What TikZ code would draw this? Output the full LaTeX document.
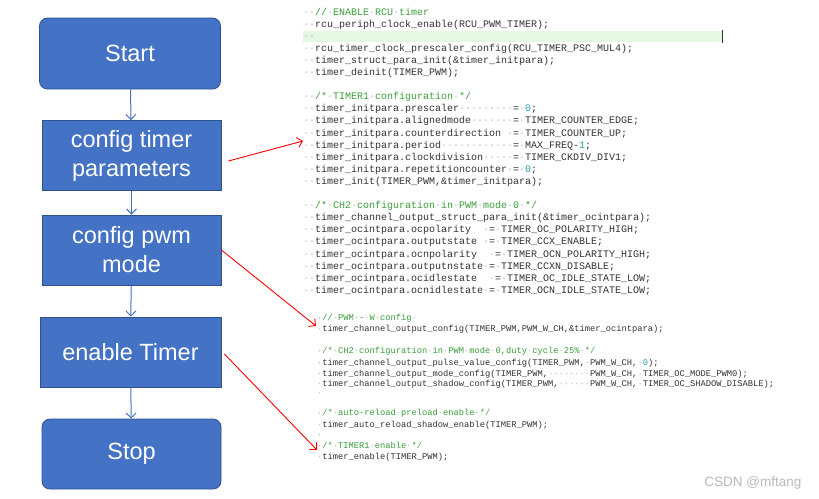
\documentclass[tikz,border=0pt]{standalone}
\usepackage{fontspec}
\setmainfont{Liberation Sans}
\newfontfamily\codefont{Liberation Mono}
\usepackage{newunicodechar}
\usetikzlibrary{arrows.meta}

\definecolor{boxblue}{HTML}{4472C4}
\definecolor{boxedge}{HTML}{2F528F}
\definecolor{cmtgreen}{HTML}{3C9E3C}
\definecolor{numcyan}{HTML}{2A9DB0}
\definecolor{codetext}{HTML}{333333}
\definecolor{dotgray}{HTML}{B8B8B8}
\definecolor{hlgreen}{HTML}{E4F8E4}

% visible blanks of the editor
\newunicodechar{·}{\textcolor{dotgray}{\symbol{"00B7}}}
\newcommand{\cmnt}[1]{\textcolor{cmtgreen}{#1}}
\newcommand{\numb}[1]{\textcolor{numcyan}{#1}}

\tikzset{
  flowbox/.style={draw=boxedge, line width=0.8pt, fill=boxblue, text=white,
    font=\fontsize{23.5}{29}\selectfont, align=center,
    minimum width=179pt, minimum height=70pt, inner sep=0pt},
  endbox/.style={flowbox, rounded corners=8pt},
  flow/.style={draw=boxblue, line width=1pt, -{Straight Barb[length=5pt,width=10pt]}},
  redarrow/.style={draw=red, line width=0.9pt, -{Straight Barb[length=5pt,width=10pt]}},
  code/.style={anchor=base west, inner sep=0pt, text=codetext,
    font=\codefont\fontsize{10}{12}\selectfont},
  smallcode/.style={code, font=\codefont\fontsize{8.75}{11}\selectfont}
}

\begin{document}
\begin{tikzpicture}[x=1pt, y=-1pt]
  \useasboundingbox[fill=white] (0,0) rectangle (819,498);

  % flow chart
  \node[endbox, minimum width=181pt, minimum height=71pt] (start) at (130,53.5) {Start};
  \node[flowbox] (ctp) at (131.5,155.5) {config timer\\parameters};
  \node[flowbox] (cpm) at (131.5,250) {config pwm\\mode};
  \node[flowbox, minimum width=181pt] (en) at (130.5,352) {enable Timer};
  \node[endbox] (stop) at (131.5,454) {Stop};

  \draw[flow] (start) -- (ctp);
  \draw[flow] (ctp) -- (cpm);
  \draw[flow] (cpm) -- (en);
  \draw[flow] (en) -- (stop);

  % code listing, upper part
  \fill[hlgreen] (303,30.5) rectangle (723,42);
  \draw[codetext, line width=0.8pt] (722.5,30) -- (722.5,43);
  \foreach \txt [count=\i] in {
    {··\cmnt{//·ENABLE·RCU·timer}},
    {··rcu\_periph\_clock\_enable(RCU\_PWM\_TIMER);},
    {··},
    {··rcu\_timer\_clock\_prescaler\_config(RCU\_TIMER\_PSC\_MUL4);},
    {··timer\_struct\_para\_init(\&timer\_initpara);},
    {··timer\_deinit(TIMER\_PWM);},
    {},
    {··\cmnt{/*·TIMER1·configuration·*/}},
    {··timer\_initpara.prescaler·········=·\numb{0};},
    {··timer\_initpara.alignedmode·······=·TIMER\_COUNTER\_EDGE;},
    {··timer\_initpara.counterdirection~·=·TIMER\_COUNTER\_UP;},
    {··timer\_initpara.period············=·MAX\_FREQ-\numb{1};},
    {··timer\_initpara.clockdivision·····=·TIMER\_CKDIV\_DIV1;},
    {··timer\_initpara.repetitioncounter·=·\numb{0};},
    {··timer\_init(TIMER\_PWM,\&timer\_initpara);},
    {},
    {··\cmnt{/*·CH2·configuration·in·PWM·mode·0·*/}},
    {··timer\_channel\_output\_struct\_para\_init(\&timer\_ocintpara);},
    {··timer\_ocintpara.ocpolarity~~·=·TIMER\_OC\_POLARITY\_HIGH;},
    {··timer\_ocintpara.outputstate~·=·TIMER\_CCX\_ENABLE;},
    {··timer\_ocintpara.ocnpolarity~~·=·TIMER\_OCN\_POLARITY\_HIGH;},
    {··timer\_ocintpara.outputnstate·=·TIMER\_CCXN\_DISABLE;},
    {··timer\_ocintpara.ocidlestate~~·=·TIMER\_OC\_IDLE\_STATE\_LOW;},
    {··timer\_ocintpara.ocnidlestate·=·TIMER\_OCN\_IDLE\_STATE\_LOW;}}
    \node[code] (up-\i) at (303,{12.1*\i+2.9}) {\txt};

  % code listing, lower part
  \foreach \y/\txt [count=\i] in {
    318/{·\cmnt{//·PWM·-·W·config·}},
    329/{·timer\_channel\_output\_config(TIMER\_PWM,PWM\_W\_CH,\&timer\_ocintpara);},
    351/{·\cmnt{/*·CH2·configuration·in·PWM·mode·0,duty·cycle·25\%·*/}},
    362.5/{·timer\_channel\_output\_pulse\_value\_config(TIMER\_PWM,·PWM\_W\_CH,·\numb{0});},
    373.5/{·timer\_channel\_output\_mode\_config(TIMER\_PWM,········PWM\_W\_CH,·TIMER\_OC\_MODE\_PWM0);},
    384/{·timer\_channel\_output\_shadow\_config(TIMER\_PWM,······PWM\_W\_CH,·TIMER\_OC\_SHADOW\_DISABLE);},
    393/{·},
    413/{·\cmnt{/*·auto-reload·preload·enable·*/}},
    425/{·timer\_auto\_reload\_shadow\_enable(TIMER\_PWM);},
    435/{·},
    446/{·\cmnt{/*·TIMER1·enable·*/}},
    457/{·timer\_enable(TIMER\_PWM);}}
    \node[smallcode] (low-\i) at (317,\y+2.5) {\txt};

  % which code belongs to which step
  \coordinate (tipA) at (303,141);
  \coordinate (tipB) at (316,326);
  \coordinate (tipC) at (317,450);
  \draw[redarrow] ([xshift=7pt,yshift=-5.5pt]ctp.east) -- (tipA);
  \draw[redarrow] (cpm.east) -- (tipB);
  \draw[redarrow] ([xshift=3pt,yshift=-2pt]en.east) -- (tipC);

  \node[anchor=east, text=gray!55, font=\fontsize{13.5}{16}\selectfont] (wm) at (805,483) {CSDN @mftang};
\end{tikzpicture}
\end{document}
